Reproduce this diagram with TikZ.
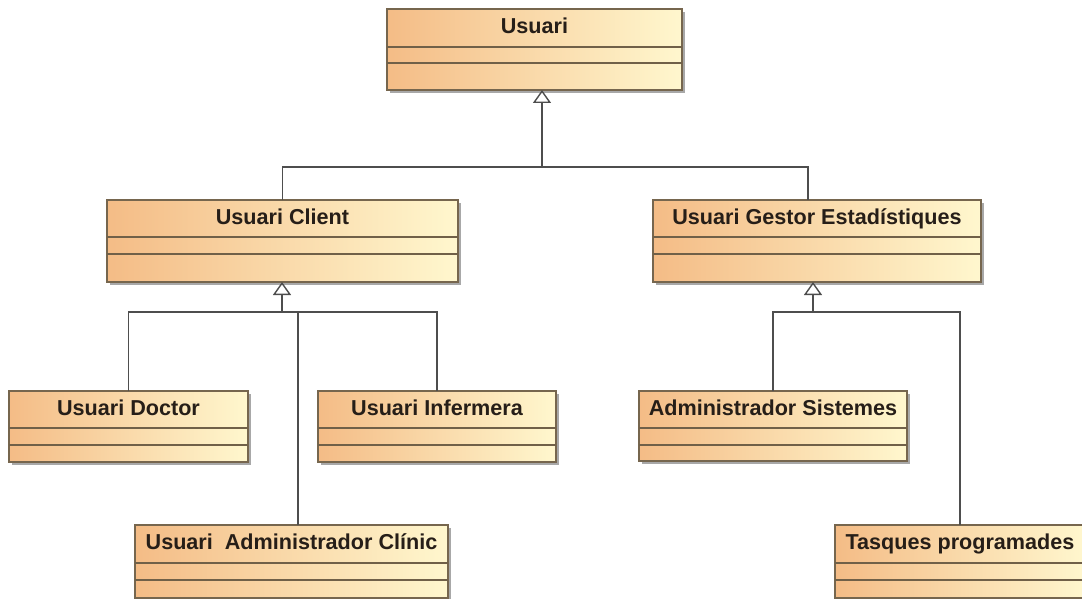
\documentclass[tikz,border=0pt]{standalone}
\usepackage{fontspec}
\setmainfont{Liberation Sans}
\usetikzlibrary{arrows.meta,shadows}

\definecolor{boxleft}{RGB}{244,188,134}
\definecolor{boxright}{RGB}{255,247,206}
\definecolor{boxedge}{RGB}{118,102,78}
\definecolor{sepline}{RGB}{112,96,72}
\definecolor{wire}{RGB}{78,78,78}
\definecolor{titleink}{RGB}{38,30,24}

\tikzset{
  umlbox/.style={rectangle, inner sep=0pt, outer sep=0pt,
    draw=boxedge, line width=1.1pt,
    left color=boxleft, right color=boxright,
    drop shadow={shadow xshift=3pt, shadow yshift=-3pt, fill=black!45, opacity=0.75}},
  umltitle/.style={anchor=base, inner sep=0pt, text=titleink,
    font=\fontsize{21.6}{24}\selectfont\bfseries},
  compline/.style={draw=sepline, line width=1.1pt},
  wireline/.style={draw=wire, line width=1.4pt},
  genarrow/.style={wireline, -{Triangle[open, width=18pt, length=13pt, line width=1.4pt]}},
}

% \umlclass{name}{left}{top}{right}{bottom}{first separator}{second separator}{title}
\newcommand\umlclass[8]{%
  \node[umlbox, minimum width={(#4-#2)*1pt}, minimum height={(#5-#3)*1pt}]
    (#1) at ({(#2+#4)/2},{(#3+#5)/2}) {};
  \node[umltitle] (#1-t) at ([yshift=-24.5pt]#1.north) {#8};
  \draw[compline] ([yshift={-(#6-#3)*1pt}]#1.north west) -- ([yshift={-(#6-#3)*1pt}]#1.north east);
  \draw[compline] ([yshift={-(#7-#3)*1pt}]#1.north west) -- ([yshift={-(#7-#3)*1pt}]#1.north east);
}

\begin{document}
\begin{tikzpicture}[x=1pt, y=-1pt]
  \clip (0,0) rectangle (1082,599);
  \fill[white] (0,0) rectangle (1082,599);

  % classes
  \umlclass{usuari}{387}{9}{682}{90}{47}{63}{Usuari}
  \umlclass{client}{107}{200}{458}{282}{237}{254}{Usuari Client}
  \umlclass{gestor}{653}{200}{981}{282}{237}{254}{Usuari Gestor Estadístiques}
  \umlclass{doctor}{9}{391}{248}{462}{428}{445}{Usuari Doctor}
  \umlclass{infermera}{318}{391}{556}{462}{428}{445}{Usuari Infermera}
  \umlclass{admsis}{639}{391}{907}{461}{428}{445}{Administrador Sistemes}
  \umlclass{clinic}{135}{525}{448}{598}{563}{580}{Usuari\ \ Administrador Clínic}
  \umlclass{tasques}{835}{525}{1085}{598}{563}{580}{Tasques programades}

  % attachment points and junctions
  \coordinate (gestor-in) at ([xshift=-9pt]gestor.north);
  \coordinate (clinic-in) at ([xshift=6.5pt]clinic.north);
  \coordinate (jU) at (542,167);
  \coordinate (jC) at (282,312);
  \coordinate (jG) at (813,312);

  % Usuari generalisation
  \draw[wireline] (client.north) |- (jU) -| (gestor-in);
  \draw[genarrow] (jU) -- (usuari.south -| jU);

  % Usuari Client generalisation
  \draw[wireline] (doctor.north) |- (jC) -| (infermera.north);
  \draw[wireline] (clinic-in) |- (jC);
  \draw[genarrow] (jC) -- (client.south -| jC);

  % Usuari Gestor Estadistiques generalisation
  \draw[wireline] (admsis.north) |- (jG) -| (tasques.north);
  \draw[genarrow] (jG) -- (gestor.south -| jG);
\end{tikzpicture}
\end{document}
